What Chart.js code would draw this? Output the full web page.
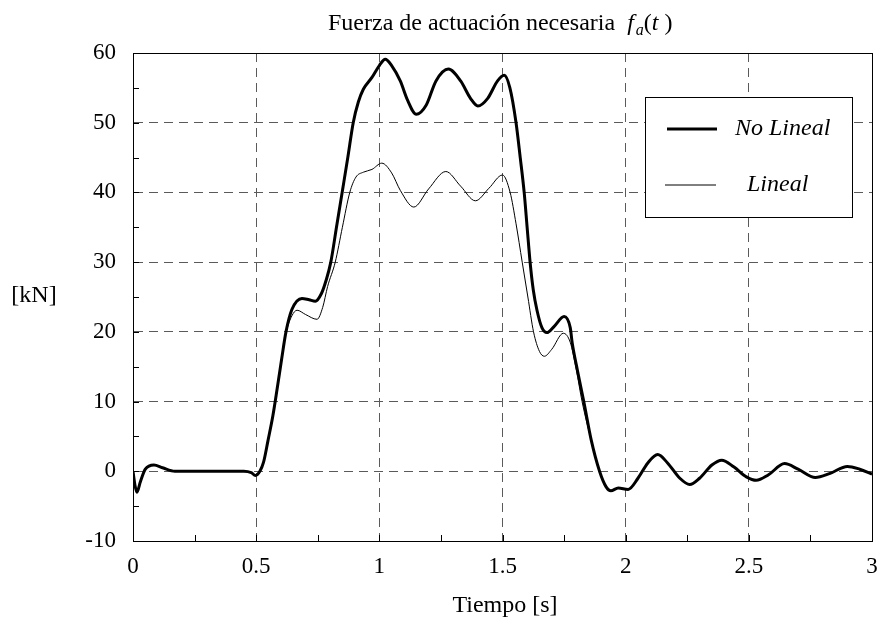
<!DOCTYPE html>
<html>
<head>
<meta charset="utf-8">
<script src="https://cdn.jsdelivr.net/npm/chart.js@4"></script>
<style>
  html, body { margin: 0; padding: 0; background: #fff; }
  #wrap { width: 882px; height: 623px; }
</style>
</head>
<body>
<div id="wrap"><canvas id="fuerzaChart" width="882" height="623"></canvas></div>
<script>
// Datos (tiempo en s, fuerza en kN)
const tNoLineal = [0, 0.008, 0.016, 0.03, 0.05, 0.085, 0.12, 0.17, 0.3, 0.45, 0.48, 0.497, 0.515, 0.53, 0.548, 0.568, 0.585, 0.603, 0.621, 0.645, 0.686, 0.715, 0.74, 0.765, 0.784, 0.803, 0.826, 0.849, 0.872, 0.894, 0.915, 0.935, 0.97, 1.0, 1.024, 1.05, 1.085, 1.115, 1.15, 1.19, 1.23, 1.28, 1.33, 1.37, 1.4, 1.44, 1.48, 1.507, 1.53, 1.555, 1.572, 1.588, 1.6, 1.612, 1.625, 1.64, 1.66, 1.68, 1.71, 1.75, 1.775, 1.783, 1.804, 1.83, 1.86, 1.894, 1.92, 1.94, 1.97, 2.01, 2.05, 2.09, 2.13, 2.17, 2.22, 2.26, 2.3, 2.35, 2.39, 2.44, 2.49, 2.53, 2.58, 2.645, 2.7, 2.77, 2.83, 2.9, 2.95, 3.0];
const fNoLineal = [0, -2.0, -3.0, -1.5, 0.3, 0.9, 0.5, 0, 0, 0, -0.2, -0.6, 0, 1.3, 4.4, 8.0, 11.8, 16, 20, 23.2, 24.8, 24.6, 24.4, 25.5, 27.4, 30, 35, 40, 45, 50, 53, 54.8, 56.5, 58.2, 59.1, 58.2, 56.0, 53.2, 51.2, 52.5, 56.0, 57.7, 56.0, 53.5, 52.4, 53.5, 56.0, 56.8, 55.0, 50, 45, 40, 35, 30, 26, 23.1, 20.6, 19.9, 20.8, 22.2, 20.6, 18.4, 14.5, 10, 4.5, 0, -2.2, -2.8, -2.4, -2.6, -1.0, 1.2, 2.4, 1.2, -1.0, -1.9, -1.0, 0.9, 1.6, 0.6, -0.8, -1.3, -0.5, 1.1, 0.3, -0.9, -0.3, 0.7, 0.3, -0.4];

const tLineal = [0, 0.008, 0.016, 0.03, 0.05, 0.085, 0.12, 0.17, 0.3, 0.45, 0.48, 0.497, 0.515, 0.53, 0.548, 0.568, 0.585, 0.603, 0.621, 0.645, 0.666, 0.7, 0.747, 0.77, 0.79, 0.821, 0.85, 0.88, 0.905, 0.935, 0.97, 1.01, 1.05, 1.085, 1.14, 1.2, 1.27, 1.33, 1.39, 1.445, 1.5, 1.531, 1.555, 1.58, 1.603, 1.626, 1.65, 1.67, 1.7, 1.747, 1.775, 1.8, 1.823, 1.86, 1.894, 1.92, 1.94, 1.97, 2.01, 2.05, 2.09, 2.13, 2.17, 2.22, 2.26, 2.3, 2.35, 2.39, 2.44, 2.49, 2.53, 2.58, 2.645, 2.7, 2.77, 2.83, 2.9, 2.95, 3.0];
const fLineal = [0, -2.0, -3.0, -1.5, 0.3, 0.9, 0.5, 0, 0, 0, -0.2, -0.6, 0, 1.3, 4.4, 8.0, 11.8, 16, 19.8, 22.3, 23.1, 22.5, 21.8, 23.5, 26.5, 30, 35, 40, 42.2, 42.9, 43.3, 44.2, 42.8, 40.3, 37.9, 40.5, 43.0, 40.9, 38.8, 40.6, 42.5, 40, 35.5, 30, 25, 20, 17.2, 16.5, 17.5, 19.8, 18.5, 14.5, 10, 4.5, 0, -2.2, -2.8, -2.4, -2.6, -1.0, 1.2, 2.4, 1.2, -1.0, -1.9, -1.0, 0.9, 1.6, 0.6, -0.8, -1.3, -0.5, 1.1, 0.3, -0.9, -0.3, 0.7, 0.3, -0.4];

const seriesNames = ['No Lineal', 'Lineal'];
const xTicks = [0, 0.5, 1, 1.5, 2, 2.5, 3];
const yTicks = [-10, 0, 10, 20, 30, 40, 50, 60];

const SERIF = "'Liberation Serif', 'Times New Roman', serif";
const GRID = '#5a5a5a';

function toPoints(ts, fs) {
    return ts.map((t, i) => ({ x: t, y: fs[i] }));
}

// Títulos, marco, marcas interiores y leyenda
const decoraciones = {
    id: 'decoraciones',
    afterDraw(chart) {
        const ctx = chart.ctx;
        const area = chart.chartArea;
        const xs = chart.scales.x;
        const ys = chart.scales.y;
        ctx.save();

        // marco completo
        ctx.strokeStyle = '#000';
        ctx.lineWidth = 1;
        ctx.setLineDash([]);
        ctx.strokeRect(Math.round(area.left) + 0.5, Math.round(area.top) + 0.5,
            Math.round(area.right - area.left), Math.round(area.bottom - area.top));

        // marcas hacia dentro
        ctx.beginPath();
        xs.ticks.forEach(tk => {
            const px = Math.round(xs.getPixelForValue(tk.value)) + 0.5;
            ctx.moveTo(px, area.bottom);
            ctx.lineTo(px, area.bottom - 6);
        });
        ys.ticks.forEach(tk => {
            const py = Math.round(ys.getPixelForValue(tk.value)) + 0.5;
            ctx.moveTo(area.left, py);
            ctx.lineTo(area.left + 6, py);
        });
        ctx.stroke();

        // título
        ctx.fillStyle = '#000';
        ctx.textBaseline = 'alphabetic';
        ctx.textAlign = 'left';
        let x = 328;
        const base = 30;
        const parts = [
            ['Fuerza de actuación necesaria  ', 'normal', 24, 0],
            ['f', 'italic', 24, 0],
            ['a', 'italic', 16, 5],
            ['(', 'normal', 24, 0],
            ['t ', 'italic', 24, 0],
            [')', 'normal', 24, 0]
        ];
        parts.forEach(([txt, style, size, dy]) => {
            ctx.font = style + ' ' + size + 'px ' + SERIF;
            ctx.fillText(txt, x, base + dy);
            x += ctx.measureText(txt).width + (txt === 'f' ? 2 : 0);
        });

        // títulos de ejes
        ctx.font = '24px ' + SERIF;
        ctx.textAlign = 'center';
        ctx.textBaseline = 'middle';
        ctx.fillText('[kN]', 34, 296);
        ctx.fillText('Tiempo [s]', 505, 606);

        // leyenda
        const bx = 645, by = 97, bw = 207, bh = 120;
        ctx.fillStyle = '#fff';
        ctx.fillRect(bx, by, bw, bh);
        ctx.strokeStyle = '#000';
        ctx.lineWidth = 1;
        ctx.strokeRect(bx + 0.5, by + 0.5, bw, bh);
        const rows = [
            { y: 129, x0: 667, x1: 717, tx: 735 },
            { y: 185, x0: 665, x1: 716, tx: 747 }
        ];
        chart.data.datasets.forEach((ds, i) => {
            const r = rows[i];
            ctx.strokeStyle = ds.borderColor;
            ctx.lineWidth = ds.borderWidth;
            ctx.beginPath();
            ctx.moveTo(r.x0, r.y);
            ctx.lineTo(r.x1, r.y);
            ctx.stroke();
            ctx.fillStyle = '#000';
            ctx.font = 'italic 24px ' + SERIF;
            ctx.textAlign = 'left';
            ctx.textBaseline = 'middle';
            ctx.fillText(ds.label, r.tx, r.y);
        });
        ctx.restore();
    }
};

const ctx = document.getElementById('fuerzaChart');
new Chart(ctx, {
    type: 'line',
    data: {
        datasets: [
            {
                label: seriesNames[0],
                data: toPoints(tNoLineal, fNoLineal),
                borderColor: '#000',
                borderWidth: 3,
                pointRadius: 0,
                cubicInterpolationMode: 'monotone',
                fill: false
            },
            {
                label: seriesNames[1],
                data: toPoints(tLineal, fLineal),
                borderColor: '#000',
                borderWidth: 1,
                pointRadius: 0,
                cubicInterpolationMode: 'monotone',
                fill: false
            }
        ]
    },
    options: {
        responsive: false,
        animation: false,
        events: [],
        layout: { padding: { top: 53, right: 10, left: 0, bottom: 0 } },
        plugins: {
            legend: { display: false },
            title: { display: false },
            tooltip: { enabled: false }
        },
        scales: {
            x: {
                type: 'linear',
                min: 0,
                max: 3,
                afterFit: s => {
                    s.height = 82;
                    s.paddingLeft = 0;
                    s.paddingRight = 0;
                },
                afterBuildTicks: s => {
                    const out = [];
                    for (let i = 0; i < xTicks.length; i++) {
                        out.push({ value: xTicks[i] });
                        if (i < xTicks.length - 1) out.push({ value: (xTicks[i] + xTicks[i + 1]) / 2 });
                    }
                    s.ticks = out;
                },
                ticks: {
                    autoSkip: false,
                    maxRotation: 0,
                    padding: 12,
                    color: '#000',
                    font: { family: SERIF, size: 23 },
                    callback: v => xTicks.includes(v) ? String(v) : ''
                },
                grid: {
                    drawTicks: false,
                    lineWidth: 1,
                    color: c => xTicks.includes(c.tick.value) ? GRID : 'rgba(0,0,0,0)'
                },
                border: { display: true, color: '#000', width: 1, dash: [9, 6] }
            },
            y: {
                type: 'linear',
                min: -10,
                max: 60,
                afterFit: s => {
                    s.width = 133;
                    s.paddingTop = 0;
                    s.paddingBottom = 0;
                },
                afterBuildTicks: s => {
                    const out = [];
                    for (let i = 0; i < yTicks.length; i++) {
                        out.push({ value: yTicks[i] });
                        if (i < yTicks.length - 1) out.push({ value: (yTicks[i] + yTicks[i + 1]) / 2 });
                    }
                    s.ticks = out;
                },
                ticks: {
                    autoSkip: false,
                    padding: 17,
                    color: '#000',
                    font: { family: SERIF, size: 23 },
                    callback: v => yTicks.includes(v) ? String(v) : ''
                },
                grid: {
                    drawTicks: false,
                    lineWidth: 1,
                    color: c => yTicks.includes(c.tick.value) ? GRID : 'rgba(0,0,0,0)'
                },
                border: { display: true, color: '#000', width: 1, dash: [9, 6] }
            }
        }
    },
    plugins: [decoraciones]
});
</script>
</body>
</html>
